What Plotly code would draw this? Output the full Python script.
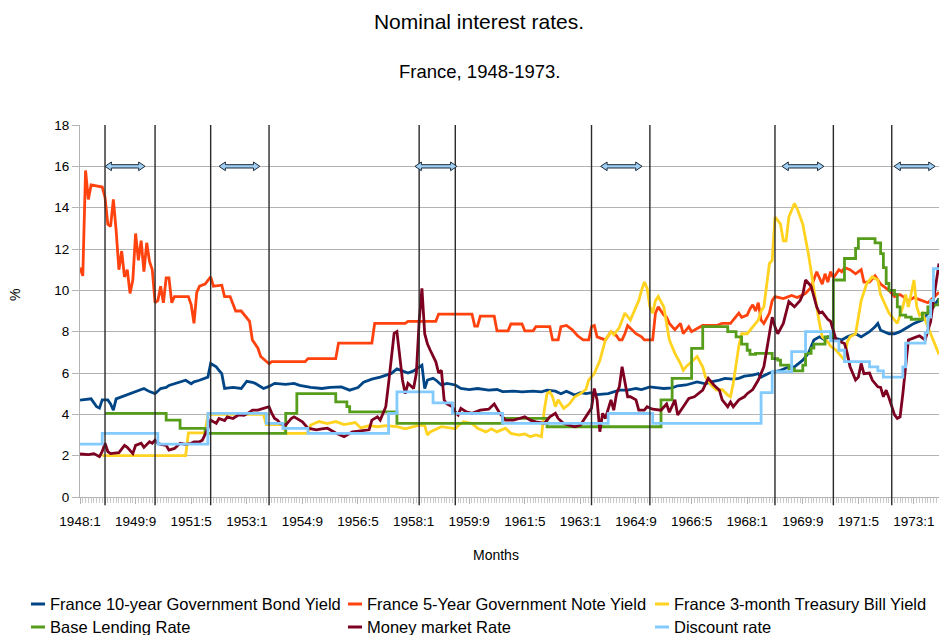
import plotly.graph_objects as go

# x values are months counted from 1948:1 (= 0)
tick_months = list(range(0, 301, 20))
tick_labels = ["1948:1", "1949:9", "1951:5", "1953:1", "1954:9", "1956:5", "1958:1", "1959:9",
               "1961:5", "1963:1", "1964:9", "1966:5", "1968:1", "1969:9", "1971:5", "1973:1"]

bond10_m = [0, 4, 6, 7, 8, 10, 11, 12, 13, 15, 16, 18, 20, 22, 23, 25, 27, 29, 31, 32, 34, 36, 38, 40, 41,
            43, 45, 46, 47, 49, 50, 51, 52, 55, 58, 60, 62, 63, 66, 68, 70, 74, 77, 79, 83, 87, 90, 94, 97,
            100, 102, 105, 108, 112, 114, 116, 118, 120, 122, 123, 124, 125, 127, 128, 130, 132, 135, 137,
            140, 143, 147, 150, 152, 156, 159, 163, 166, 168, 171, 173, 175, 178, 180, 182, 184, 186, 190,
            192, 194, 197, 200, 202, 205, 208, 210, 213, 215, 218, 220, 222, 225, 227, 230, 232, 235, 237,
            239, 242, 244, 245, 248, 250, 252, 255, 257, 260, 262, 264, 266, 268, 269, 271, 274, 276, 279,
            281, 284, 286, 287, 288, 291, 293, 295, 298, 300, 303, 305, 307, 309]
bond10_v = [4.69, 4.75, 4.37, 4.3, 4.7, 4.7, 4.5, 4.2, 4.75, 4.85, 4.93, 5.0, 5.1, 5.2, 5.25, 5.1, 5.0, 5.25,
            5.3, 5.4, 5.48, 5.57, 5.65, 5.48, 5.57, 5.65, 5.74, 5.8, 6.46, 6.3, 6.13, 5.97, 5.25, 5.3, 5.25,
            5.6, 5.55, 5.5, 5.25, 5.35, 5.5, 5.45, 5.5, 5.4, 5.3, 5.25, 5.3, 5.33, 5.17, 5.3, 5.55, 5.7, 5.8,
            5.98, 6.2, 6.1, 6.0, 6.1, 6.3, 6.38, 5.25, 5.66, 5.74, 5.66, 5.42, 5.5, 5.42, 5.25, 5.2, 5.25,
            5.17, 5.2, 5.1, 5.12, 5.09, 5.12, 5.09, 5.17, 5.12, 5.0, 5.12, 4.93, 5.05, 5.0, 5.05, 4.95, 5.0,
            5.09, 5.17, 5.17, 5.25, 5.2, 5.33, 5.28, 5.25, 5.28, 5.38, 5.42, 5.48, 5.57, 5.48, 5.57, 5.66,
            5.74, 5.7, 5.74, 5.85, 5.9, 5.97, 5.8, 6.0, 6.06, 6.13, 6.3, 6.3, 6.62, 6.95, 7.6, 7.75, 7.6,
            7.75, 7.7, 7.6, 7.75, 7.9, 7.75, 8.0, 8.24, 8.4, 8.07, 7.9, 7.9, 8.0, 8.24, 8.4, 8.56, 8.88,
            9.2, 9.6]

note5_m = [0, 1, 2, 3, 4, 8, 9, 10, 11, 12, 13, 14, 15, 16, 17, 18, 19, 20, 21, 22, 23, 24, 25, 26, 27,
           28, 29, 30, 31, 32, 33, 34, 39, 40, 41, 42, 43, 45, 47, 48, 51, 52, 54, 56, 58, 61, 62, 64, 65,
           68, 69, 81, 82, 92, 93, 105, 106, 117, 118, 128, 129, 141, 142, 143, 144, 149, 150, 154, 155,
           159, 160, 163, 164, 169, 170, 172, 173, 175, 177, 179, 181, 183, 184, 185, 186, 189, 191, 193,
           194, 195, 196, 197, 200, 202, 203, 206, 207, 208, 210, 211, 212, 214, 216, 217, 219, 220, 222,
           224, 229, 231, 234, 235, 237, 238, 240, 241, 242, 243, 244, 245, 246, 248, 249, 250, 253, 256,
           258, 261, 263, 265, 267, 268, 269, 270, 271, 273, 274, 275, 277, 279, 281, 282, 284, 286, 288,
           291, 293, 295, 298, 300, 303, 305, 307, 309]
note5_v = [11.1, 10.7, 15.8, 14.4, 15.1, 15.0, 14.5, 13.2, 13.1, 14.4, 12.9, 11.0, 11.9, 10.65, 11.0, 9.85,
           10.5, 12.75, 11.45, 12.4, 10.9, 12.3, 11.4, 11.0, 9.4, 9.5, 10.2, 9.4, 10.6, 10.6, 9.4, 9.7, 9.7,
           9.3, 8.4, 9.9, 10.2, 10.3, 10.65, 10.2, 10.25, 9.7, 9.7, 9.0, 9.0, 8.5, 7.6, 7.2, 6.8, 6.45, 6.55,
           6.55, 6.7, 6.7, 7.45, 7.45, 8.4, 8.4, 8.5, 8.5, 8.85, 8.85, 8.27, 8.27, 8.75, 8.75, 8.04, 8.04,
           8.37, 8.37, 8.04, 8.04, 8.24, 8.24, 7.6, 7.6, 8.24, 8.3, 8.1, 7.8, 7.6, 7.6, 8.24, 8.3, 7.75, 7.6,
           8.0, 7.8, 7.6, 7.6, 7.9, 8.3, 7.9, 7.75, 7.6, 7.6, 8.9, 9.2, 8.8, 8.7, 8.4, 8.1, 8.4, 7.9, 8.24,
           8.0, 8.15, 8.3, 8.3, 8.4, 8.4, 8.56, 8.9, 8.7, 8.8, 9.1, 9.3, 9.0, 9.4, 8.56, 8.4, 8.9, 9.5, 9.7,
           9.6, 9.75, 9.65, 9.85, 10.15, 10.9, 10.3, 10.8, 10.4, 10.9, 10.6, 11.0, 10.9, 11.1, 11.0, 10.8,
           11.0, 10.4, 10.4, 10.7, 10.3, 10.0, 9.7, 9.8, 9.5, 9.65, 9.5, 9.4, 9.65, 9.9]

tbill3_m = [8, 38, 39, 45, 46, 66, 67, 73, 74, 82, 83, 86, 89, 92, 95, 99, 101, 104, 107, 110, 114, 117,
            120, 122, 124, 125, 126, 130, 133, 135, 136, 138, 141, 143, 146, 148, 150, 153, 155, 158, 160,
            162, 164, 166, 167, 168, 169, 170, 171, 172, 174, 176, 178, 180, 182, 183, 185, 187, 189, 191,
            192, 194, 196, 198, 200, 201, 202, 203, 204, 205, 206, 207, 208, 210, 211, 212, 214, 216, 217,
            218, 220, 222, 224, 225, 227, 229, 231, 233, 234, 235, 237, 238, 240, 242, 244, 245, 246, 248,
            249, 250, 252, 253, 254, 255, 257, 258, 260, 262, 264, 265, 266, 267, 269, 270, 272, 274, 275,
            276, 277, 279, 280, 281, 283, 285, 287, 288, 290, 291, 293, 294, 296, 297, 298, 300, 301, 302,
            303, 305, 306, 308, 309]
tbill3_v = [2.0, 2.0, 3.1, 3.1, 4.0, 4.0, 3.5, 3.5, 3.08, 3.08, 3.48, 3.65, 3.55, 3.65, 3.5, 3.6, 3.34,
            3.45, 3.4, 3.45, 3.4, 3.3, 3.4, 3.48, 3.45, 3.0, 3.15, 3.4, 3.35, 3.3, 3.45, 3.64, 3.55, 3.33,
            3.15, 3.3, 3.15, 3.33, 3.08, 3.0, 3.05, 2.92, 3.0, 2.92, 4.2, 5.0, 5.09, 4.85, 4.37, 4.7, 4.29,
            4.5, 4.85, 5.0, 5.2, 5.66, 5.97, 6.6, 7.6, 8.0, 7.85, 8.2, 8.9, 8.56, 9.2, 9.5, 10.0, 10.4,
            10.1, 9.2, 8.9, 9.5, 9.7, 9.2, 8.4, 7.6, 6.95, 6.46, 6.13, 6.3, 6.54, 6.8, 6.3, 5.8, 5.42, 5.17,
            5.2, 4.93, 4.85, 5.5, 7.3, 7.9, 7.9, 8.24, 8.56, 9.0, 9.2, 11.3, 11.45, 13.55, 13.2, 12.4, 12.4,
            13.55, 14.2, 13.95, 13.2, 11.78, 10.2, 9.2, 8.4, 7.75, 7.5, 7.3, 7.1, 6.8, 6.62, 7.5, 7.75, 7.9,
            8.7, 9.5, 10.33, 10.65, 10.5, 9.8, 9.2, 8.9, 8.56, 8.4, 9.2, 9.8, 9.2, 10.5, 9.2, 8.8, 8.9, 8.24,
            7.9, 7.2, 6.9]

base_m = [9, 31, 36, 45, 74, 78, 92, 96, 97, 114, 152, 168, 209, 213, 220, 224, 233, 236, 238, 240, 241,
          243, 249, 251, 252, 255, 257, 260, 261, 263, 264, 268, 271, 275, 279, 280, 286, 288, 289, 290,
          291, 293, 294, 295, 297, 299, 303, 305, 307, 309]
base_v = [4.05, 3.72, 3.32, 3.08, 4.05, 5.0, 4.6, 4.37, 4.12, 3.56, 3.8, 3.4, 4.7, 5.74, 7.19, 8.24, 8.0,
          7.75, 7.4, 7.1, 6.9, 6.95, 6.7, 6.62, 6.38, 6.2, 6.1, 6.38, 6.95, 7.2, 7.4, 7.75, 10.5, 11.54,
          12.03, 12.5, 12.3, 11.78, 11.1, 10.33, 10.0, 9.8, 9.2, 8.8, 8.7, 8.6, 8.9, 9.2, 9.3, 9.6]

money_m = [0, 3, 5, 7, 8, 9, 10, 11, 14, 16, 17, 19, 20, 22, 23, 25, 26, 27, 28, 29, 31, 32, 34, 36, 38,
           40, 41, 43, 44, 46, 47, 49, 50, 52, 53, 55, 57, 59, 61, 62, 64, 66, 68, 69, 70, 71, 72, 74, 76,
           77, 78, 80, 82, 85, 87, 89, 92, 95, 98, 101, 104, 105, 107, 108, 110, 111, 112, 113, 114, 115,
           116, 117, 118, 120, 121, 122, 123, 124, 125, 126, 128, 129, 130, 131, 132, 134, 135, 136, 137,
           139, 141, 144, 147, 149, 150, 151, 153, 156, 158, 160, 162, 164, 167, 169, 171, 172, 174, 176,
           178, 180, 182, 183, 184, 185, 186, 187, 188, 189, 191, 192, 193, 194, 195, 197, 198, 200, 201,
           203, 204, 206, 209, 211, 212, 214, 215, 217, 219, 221, 224, 226, 228, 230, 231, 233, 234, 235,
           237, 239, 240, 242, 244, 246, 247, 249, 250, 251, 253, 254, 255, 257, 259, 260, 261, 263, 264,
           265, 266, 267, 269, 270, 272, 275, 276, 277, 279, 280, 281, 282, 284, 285, 287, 288, 289, 290,
           291, 293, 294, 295, 296, 297, 298, 300, 302, 304, 306, 307, 309]
money_v = [2.08, 2.05, 2.1, 1.95, 2.2, 2.6, 2.2, 2.1, 2.15, 2.5, 2.4, 2.1, 2.5, 2.6, 2.4, 2.67, 2.6, 2.75,
           2.6, 2.55, 2.5, 2.27, 2.35, 2.6, 2.55, 2.6, 2.67, 2.67, 2.75, 3.3, 3.72, 3.56, 3.8, 3.7, 3.88,
           3.8, 3.97, 3.95, 4.1, 4.2, 4.2, 4.29, 4.37, 4.05, 3.8, 3.72, 3.56, 3.48, 3.8, 3.88, 3.8, 3.64,
           3.33, 3.25, 3.3, 3.33, 3.1, 2.92, 3.15, 3.2, 3.25, 3.72, 3.88, 3.72, 4.37, 5.5, 6.78, 7.92, 8.0,
           6.95, 5.66, 5.0, 5.5, 5.25, 6.0, 8.5, 10.1, 7.9, 7.4, 7.1, 6.54, 6.0, 6.13, 4.69, 4.5, 4.37,
           4.12, 3.97, 4.29, 4.12, 4.05, 4.2, 4.25, 4.5, 4.3, 4.05, 3.72, 3.72, 3.8, 3.88, 3.72, 3.64, 3.56,
           3.88, 4.05, 3.8, 3.56, 3.48, 3.4, 3.48, 3.88, 4.05, 4.3, 5.25, 4.7, 3.16, 4.05, 3.8, 4.7, 4.2,
           5.0, 5.33, 6.3, 4.85, 4.85, 4.7, 4.2, 4.2, 4.37, 4.25, 4.2, 4.5, 4.1, 4.7, 3.97, 4.37, 4.77,
           4.85, 5.17, 5.74, 5.42, 5.17, 4.7, 4.37, 4.6, 4.37, 4.7, 4.85, 5.0, 5.2, 5.66, 6.3, 7.1, 8.7,
           8.24, 7.9, 8.4, 9.0, 9.45, 9.2, 9.5, 9.8, 10.5, 10.2, 9.65, 9.2, 8.9, 8.95, 8.6, 8.5, 7.6, 7.43,
           6.95, 6.3, 5.66, 5.8, 6.46, 5.97, 6.0, 5.66, 5.33, 5.3, 4.85, 5.17, 4.8, 3.97, 3.8, 3.88, 5.0,
           6.5, 7.6, 7.7, 7.8, 7.6, 8.5, 9.5, 11.3]

discount_m = [0, 8, 28, 46, 67, 73, 82, 111, 114, 127, 134, 152, 190, 206, 245, 249, 256, 261, 270, 273,
              275, 284, 287, 289, 296, 297, 304, 305, 306, 307, 309]
discount_v = [2.56, 3.08, 2.56, 4.05, 3.56, 3.32, 3.08, 4.05, 5.09, 4.55, 4.05, 3.56, 4.05, 3.56, 5.05,
              6.06, 7.03, 8.0, 7.55, 7.1, 6.55, 6.3, 6.1, 5.8, 6.3, 7.45, 7.95, 8.7, 9.5, 11.05, 11.05]

# business cycle markers and the spans marked with double arrows
cycle_months = [9, 27, 47, 68, 122, 135, 184, 205, 250, 271, 292]
arrow_spans = [(9, 23.4), (50, 64.7), (120.5, 135.6), (187.3, 202.2), (252.5, 267.6), (292.8, 307.6)]

FONT = "Liberation Sans, Arial, sans-serif"
L, R, TOP, BOT = 80, 939, 125, 497   # plot area in pixels


def px_x(p):
    return (p - L) / (R - L)


def px_y(p):
    return (BOT - p) / (BOT - TOP)


series = [
    ("France 10-year Government Bond Yield", bond10_m, bond10_v, "#004586", "linear"),
    ("France 5-Year Government Note Yield", note5_m, note5_v, "#ff420e", "linear"),
    ("France 3-month Treasury Bill Yield", tbill3_m, tbill3_v, "#ffd320", "linear"),
    ("Base Lending Rate", base_m, base_v, "#579d1c", "hv"),
    ("Money market Rate", money_m, money_v, "#7e0021", "linear"),
    ("Discount rate", discount_m, discount_v, "#83caff", "hv"),
]

fig = go.Figure()
for name, m, v, color, shape in series:
    fig.add_trace(go.Scatter(x=m, y=v, mode="lines", name=name,
                             line=dict(color=color, width=2.8, shape=shape)))

shapes = []
for cm in cycle_months:
    shapes.append(dict(type="line", xref="x", yref="paper", x0=cm, x1=cm, y0=-0.022, y1=1,
                       line=dict(color="#2a2a2a", width=1.4), layer="above"))

ay, hl, hh, sh = 16.0, 2.3, 0.21, 0.08
for a, b in arrow_spans:
    path = (f"M{a},{ay} L{a+hl},{ay+hh} L{a+hl},{ay+sh} L{b-hl},{ay+sh} L{b-hl},{ay+hh} L{b},{ay} "
            f"L{b-hl},{ay-hh} L{b-hl},{ay-sh} L{a+hl},{ay-sh} L{a+hl},{ay-hh} Z")
    shapes.append(dict(type="path", xref="x", yref="y", path=path, fillcolor="#9fcff5",
                       line=dict(color="#1e2b38", width=1), layer="above"))

annotations = [
    dict(text="France, 1948-1973.", xref="paper", yref="paper", x=px_x(479), y=px_y(72),
         showarrow=False, font=dict(size=18.5, color="#000", family=FONT), xanchor="center", yanchor="middle"),
    dict(text="Months", xref="paper", yref="paper", x=px_x(496), y=px_y(555),
         showarrow=False, font=dict(size=14, color="#000", family=FONT), xanchor="center", yanchor="middle"),
    dict(text="%", xref="paper", yref="paper", x=px_x(15), y=px_y(295), textangle=-90,
         showarrow=False, font=dict(size=14, color="#000", family=FONT), xanchor="center", yanchor="middle"),
]

# legend in three columns, two rows
legend_cols = [31, 348, 655]
legend_rows = [604, 627]
for i, (name, m, v, color, shape) in enumerate(series):
    cx = legend_cols[i % 3]
    cy = legend_rows[i // 3]
    shapes.append(dict(type="line", xref="paper", yref="paper", x0=px_x(cx), x1=px_x(cx + 14),
                       y0=px_y(cy), y1=px_y(cy), line=dict(color=color, width=3)))
    annotations.append(dict(text=name, xref="paper", yref="paper", x=px_x(cx + 17), y=px_y(cy),
                            showarrow=False, xanchor="left", yanchor="middle",
                            font=dict(size=16.5, color="#000", family=FONT)))

fig.update_layout(
    width=939, height=635,
    margin=dict(l=L, r=939 - R, t=TOP, b=635 - BOT),
    paper_bgcolor="white", plot_bgcolor="white",
    showlegend=False,
    font=dict(family=FONT, color="#000"),
    title=dict(text="Nominal interest rates.", x=479 / 939, xref="container", xanchor="center",
               y=1 - 22 / 635, yref="container", yanchor="middle", font=dict(size=21, family=FONT)),
    shapes=shapes,
    annotations=annotations,
)
fig.update_xaxes(range=[0, 309], tickmode="array", tickvals=tick_months, ticktext=tick_labels,
                 showgrid=False, showline=True, linecolor="#b3b3b3", ticks="outside", ticklen=6,
                 tickcolor="#b3b3b3", ticklabelstandoff=6, tickfont=dict(size=13.5, family=FONT),
                 minor=dict(tickmode="linear", tick0=0, dtick=1, ticks="outside", ticklen=5,
                            tickcolor="#c8c8c8", showgrid=False),
                 zeroline=False)
fig.update_yaxes(range=[0, 18], dtick=2, showgrid=True, gridcolor="#b3b3b3", gridwidth=1,
                 showline=True, linecolor="#b3b3b3", ticks="outside", ticklen=7, tickcolor="#b3b3b3",
                 tickfont=dict(size=13.5, family=FONT), zeroline=False)

# the page's default body margin would push the 939x635 figure off the window
fig.write_html("out.html", config={"displayModeBar": False},
               post_script="document.body.style.margin='0';")
